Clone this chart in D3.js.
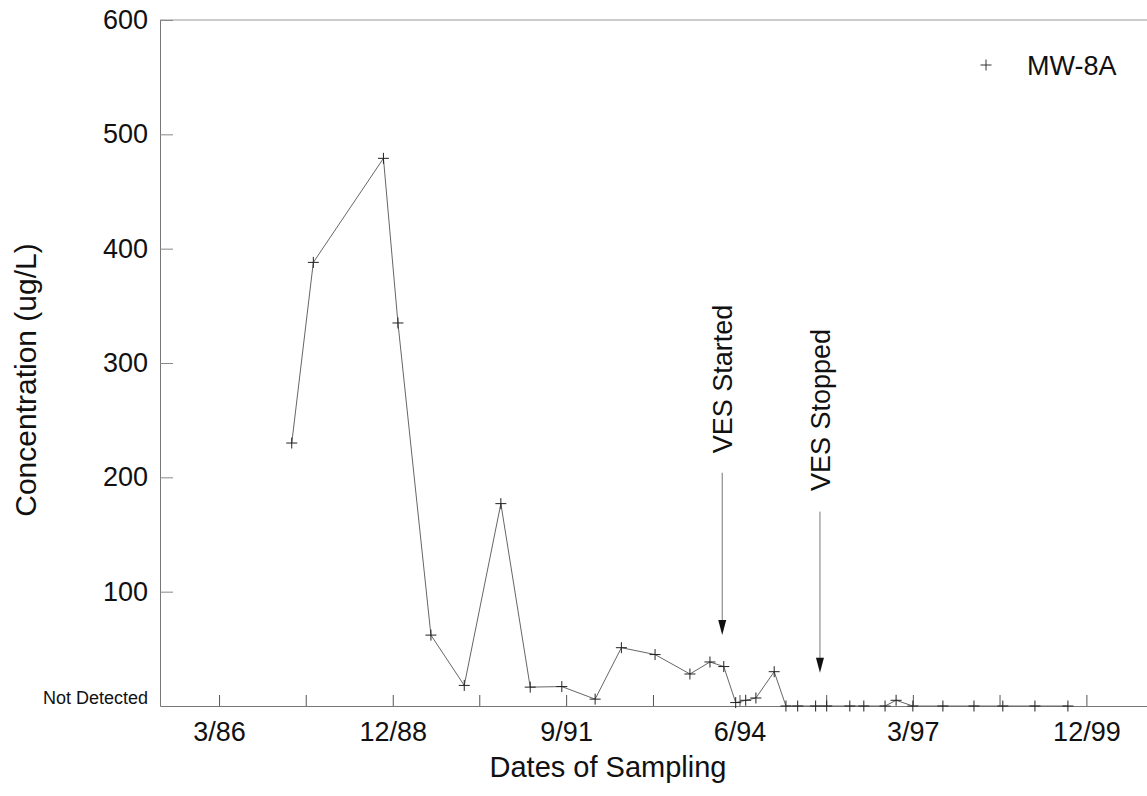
<!DOCTYPE html>
<html><head><meta charset="utf-8">
<script src="https://cdn.jsdelivr.net/npm/d3@7"></script>
<style>
body{margin:0;background:#fff;}
svg{display:block;}
text{font-family:"Liberation Sans",Arial,Helvetica,sans-serif;fill:#111;}
</style>
</head><body>
<svg id="chart" width="1147" height="796"></svg>
<script>
// ---- data ----
const seriesName = "MW-8A";
const sampleDates = [
  "1987-04-26","1987-08-29","1988-10-08","1988-12-31","1989-07-10","1990-01-19",
  "1990-08-19","1991-02-05","1991-08-07","1992-02-16","1992-07-17","1993-01-28",
  "1993-08-18","1993-12-12","1994-03-02","1994-05-10","1994-07-07","1994-09-04",
  "1994-12-19","1995-02-25","1995-05-04","1995-08-16","1995-10-19","1996-03-01",
  "1996-05-21","1996-09-21","1996-11-24","1997-03-01","1997-08-22","1998-02-18",
  "1998-08-04","1999-02-06","1999-08-16"
];
const concentrations = [
  230, 388, 479, 335, 62, 18,
  177, 16.5, 17, 6, 51, 45,
  28, 38.5, 34.5, 3, 5, 7,
  30, 0, 0, 0, 0, 0,
  0, 0, 5, 0, 0, 0,
  0, 0, 0
];
const yTickValues = [0, 100, 200, 300, 400, 500, 600];
const yTickLabels = ["Not Detected", "100", "200", "300", "400", "500", "600"];
const xTickDates = ["1986-03-01","1987-07-16","1988-12-01","1990-04-16","1991-09-01",
  "1993-01-16","1994-06-01","1995-10-16","1997-03-01","1998-07-16","1999-12-01"];
const xTickLabels = ["3/86","","12/88","","9/91","","6/94","","3/97","","12/99"];
const xDomain = ["1985-03-24", "2000-11-16"];
const yDomain = [0, 600];
const annotationLabels = ["VES Started", "VES Stopped"];
const annotationDates = ["1994-02-21", "1995-09-10"];
const annotationTextBottom = [221, 188];   // value where rotated label starts
const annotationLineTop = [204, 170];      // value where arrow shaft starts
const annotationTip = [62, 29];            // value of arrow tip

// ---- layout ----
const svg = d3.select("#chart");
const L = 160, R = 1147, T = 20, B = 706;
const parse = d3.utcParse("%Y-%m-%d");

const x = d3.scaleUtc().domain(xDomain.map(parse)).range([L, R]);
const y = d3.scaleLinear().domain(yDomain).range([B, T]);

const data = sampleDates.map((d, i) => ({date: parse(d), value: concentrations[i]}));

// top frame line
svg.append("line").attr("x1", L).attr("x2", R).attr("y1", T).attr("y2", T)
  .attr("stroke", "#999").attr("stroke-width", 1);

// y axis
const yAxis = d3.axisLeft(y).tickValues(yTickValues)
  .tickFormat((d, i) => yTickLabels[i]).tickSize(-13).tickSizeOuter(0).tickPadding(12);
const gy = svg.append("g").attr("transform", `translate(${L},0)`).call(yAxis);
gy.select(".domain").attr("stroke", "#777");
gy.selectAll(".tick line").attr("stroke", "#888");
gy.selectAll(".tick text").attr("font-size", 27).attr("fill", "#111")
  .attr("font-family", '"Liberation Sans",Arial,sans-serif');
gy.selectAll(".tick").filter(d => d === 0).select("text")
  .attr("font-size", 18).attr("dy", "-0.12em");
gy.selectAll(".tick").filter(d => d === 0).select("line").remove();

// x axis
const xAxis = d3.axisBottom(x).tickValues(xTickDates.map(parse))
  .tickFormat((d, i) => xTickLabels[i]).tickSize(-11).tickSizeOuter(0).tickPadding(16);
const gx = svg.append("g").attr("transform", `translate(0,${B})`).call(xAxis);
gx.select(".domain").attr("stroke", "#777");
gx.selectAll(".tick line").attr("stroke", "#555");
gx.selectAll(".tick text").attr("font-size", 27).attr("fill", "#111")
  .attr("font-family", '"Liberation Sans",Arial,sans-serif');

// series line
const line = d3.line().x(d => x(d.date)).y(d => y(d.value));
svg.append("path").datum(data).attr("d", line)
  .attr("fill", "none").attr("stroke", "#666").attr("stroke-width", 1);

// markers
const plus = "M-5.5,0H5.5M0,-5.5V5.5";
svg.append("g").selectAll("path").data(data).join("path")
  .attr("transform", d => `translate(${x(d.date)},${y(d.value)})`)
  .attr("d", plus).attr("stroke", "#222").attr("stroke-width", 1).attr("fill", "none");

// annotations
annotationLabels.forEach((lab, i) => {
  const ax = x(parse(annotationDates[i]));
  svg.append("text")
    .attr("transform", `translate(${ax},${y(annotationTextBottom[i])}) rotate(-90)`)
    .attr("dy", "0.36em").attr("text-anchor", "start")
    .attr("font-size", 27).text(lab);
  const tipY = y(annotationTip[i]);
  svg.append("line").attr("x1", ax).attr("x2", ax)
    .attr("y1", y(annotationLineTop[i])).attr("y2", tipY - 12)
    .attr("stroke", "#777").attr("stroke-width", 1);
  svg.append("path")
    .attr("d", `M${ax - 4},${tipY - 15}L${ax + 4},${tipY - 15}L${ax},${tipY}Z`)
    .attr("fill", "#111");
});

// legend
svg.append("path").attr("transform", "translate(986,65)").attr("d", plus)
  .attr("stroke", "#333").attr("stroke-width", 1).attr("fill", "none");
svg.append("text").attr("x", 1027).attr("y", 75).attr("font-size", 27).text(seriesName);

// axis titles
svg.append("text").attr("transform", "translate(25,380) rotate(-90)")
  .attr("text-anchor", "middle").attr("dy", "0.36em").attr("font-size", 30)
  .text("Concentration (ug/L)");
svg.append("text").attr("x", 608).attr("y", 777).attr("text-anchor", "middle")
  .attr("font-size", 29).text("Dates of Sampling");
</script>
</body></html>
